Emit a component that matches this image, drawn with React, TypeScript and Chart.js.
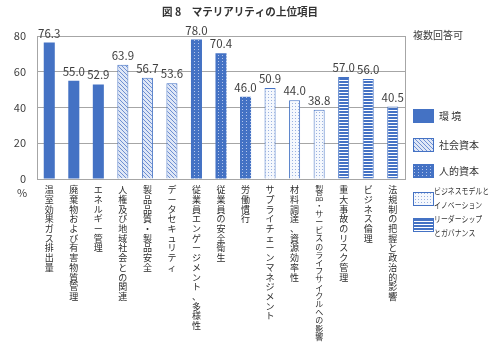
import React, { useEffect, useRef } from 'react';
import { Chart, registerables } from 'chart.js';

Chart.register(...registerables);

const chartTitle = '図 8　マテリアリティの上位項目';
const noteText = '複数回答可';
const unitText = '%';

const categories = [
  '温室効果ガス排出量',
  '廃棄物および有害物質管理',
  'エネルギー管理',
  '人権及び地域社会との関連',
  '製品品質・製品安全',
  'データセキュリティ',
  '従業員エンゲージメント、多様性',
  '従業員の安全衛生',
  '労働慣行',
  'サプライチェーンマネジメント',
  '材料調達、資源効率性',
  '製品・サービスのライフサイクルへの影響',
  '重大事故のリスク管理',
  'ビジネス倫理',
  '法規制の把握と政治的影響',
];

const values = [76.3, 55.0, 52.9, 63.9, 56.7, 53.6, 78.0, 70.4, 46.0, 50.9, 44.0, 38.8, 57.0, 56.0, 40.5];

const groupOfCategory = [0, 0, 0, 1, 1, 1, 2, 2, 2, 3, 3, 3, 4, 4, 4];

const groupNames: string[][] = [
  ['環 境'],
  ['社会資本'],
  ['人的資本'],
  ['ビジネスモデルと', 'イノベーション'],
  ['リーダーシップ', 'とガバナンス'],
];

const yMin = 0;
const yMax = 80;
const yStep = 20;

const BLUE = '#4472C4';
const FONT = "'Noto Sans CJK JP', 'Noto Sans', sans-serif";

function makeFill(kind: number): string | CanvasPattern {
  if (kind === 0) return BLUE;
  const c = document.createElement('canvas');
  const g = c.getContext('2d')!;
  if (kind === 1) {
    c.width = 4; c.height = 4;
    g.fillStyle = '#dfe7f6';
    g.fillRect(0, 0, 4, 4);
    g.strokeStyle = '#6e8fd2';
    g.lineWidth = 1;
    for (const o of [-4, 0, 4]) {
      g.beginPath();
      g.moveTo(o, 0);
      g.lineTo(o + 4, 4);
      g.stroke();
    }
  } else if (kind === 2) {
    c.width = 4; c.height = 3;
    g.fillStyle = BLUE;
    g.fillRect(0, 0, 4, 3);
    g.fillStyle = '#b3c5ea';
    g.fillRect(2, 1, 1, 1);
  } else if (kind === 3) {
    c.width = 3; c.height = 3;
    g.fillStyle = '#f5f8fd';
    g.fillRect(0, 0, 3, 3);
    g.fillStyle = '#9ab1e0';
    g.fillRect(1, 1, 1, 1);
  } else {
    c.width = 1; c.height = 3;
    g.fillStyle = BLUE;
    g.fillRect(0, 0, 1, 2);
    g.fillStyle = '#ffffff';
    g.fillRect(0, 2, 1, 1);
  }
  return g.createPattern(c, 'repeat')!;
}

export default function App() {
  const ref = useRef<HTMLCanvasElement | null>(null);

  useEffect(() => {
    if (!ref.current) return;
    const fills = [0, 1, 2, 3, 4].map(makeFill);
    const borders = ['rgba(0,0,0,0)', BLUE, 'rgba(0,0,0,0)', BLUE, BLUE];
    const borderWidths = [0, 1, 0, 1, 1];

    const extras = {
      id: 'extras',
      beforeDatasetsDraw(chart: any) {
        const { ctx, chartArea: a } = chart;
        ctx.save();
        ctx.strokeStyle = '#a6a6a6';
        ctx.lineWidth = 1;
        ctx.strokeRect(Math.round(a.left) + 0.5, Math.round(a.top) + 0.5, Math.round(a.right - a.left), Math.round(a.bottom - a.top));
        ctx.restore();
      },
      afterDatasetsDraw(chart: any) {
        const { ctx } = chart;
        const meta = chart.getDatasetMeta(0);
        ctx.save();
        ctx.font = `11.5px ${FONT}`;
        ctx.fillStyle = '#404040';
        ctx.textAlign = 'center';
        ctx.textBaseline = 'alphabetic';
        meta.data.forEach((bar: any, i: number) => {
          ctx.fillText(values[i].toFixed(1), bar.x, bar.y - 5);
        });
        ctx.restore();
      },
      afterDraw(chart: any) {
        const { ctx, chartArea: a } = chart;
        ctx.save();
        // title
        ctx.font = `bold 11px ${FONT}`;
        ctx.fillStyle = '#333333';
        ctx.textAlign = 'center';
        ctx.textBaseline = 'middle';
        ctx.fillText(chartTitle, 240, 12, 156);
        // note
        ctx.font = `10px ${FONT}`;
        ctx.fillStyle = '#404040';
        ctx.textAlign = 'left';
        ctx.fillText(noteText, a.right + 8, 35);
        // unit
        ctx.font = `11px ${FONT}`;
        ctx.textAlign = 'center';
        ctx.fillText(unitText, 22, a.bottom + 14);
        // legend
        const centers = [116, 145, 171, 199, 225];
        const lineOffsets = [[0], [0], [0], [-8, 6], [-6, 8]];
        const bx = a.right + 8;
        groupNames.forEach((lines, k) => {
          const cy = centers[k];
          const bw = 21, bh = 14;
          ctx.fillStyle = fills[k] as any;
          ctx.fillRect(bx, cy - bh / 2, bw, bh);
          if (borderWidths[k]) {
            ctx.strokeStyle = BLUE;
            ctx.lineWidth = 1;
            ctx.strokeRect(bx + 0.5, cy - bh / 2 + 0.5, bw - 1, bh - 1);
          }
          ctx.fillStyle = '#333333';
          ctx.textAlign = 'left';
          ctx.textBaseline = 'middle';
          if (lines.length === 1) {
            ctx.font = `10px ${FONT}`;
            ctx.fillText(lines[0], bx + 26, cy);
          } else {
            ctx.font = `8.5px ${FONT}`;
            lines.forEach((ln, j) => {
              ctx.fillText(ln, bx + 21, cy + lineOffsets[k][j], 55 * ln.length / 8);
            });
          }
        });
        ctx.restore();
      },
    };

    const chart = new Chart(ref.current, {
      type: 'bar',
      data: {
        labels: categories,
        datasets: [
          {
            data: values,
            backgroundColor: groupOfCategory.map((g) => fills[g]) as any,
            borderColor: groupOfCategory.map((g) => borders[g]),
            borderWidth: groupOfCategory.map((g) => borderWidths[g]),
            categoryPercentage: 1,
            barPercentage: 0.45,
          },
        ],
      },
      options: {
        responsive: false,
        animation: false,
        layout: { padding: { top: 36, right: 95, left: 0, bottom: 0 } },
        plugins: {
          legend: { display: false },
          tooltip: { enabled: false },
          title: { display: false },
        },
        scales: {
          x: {
            grid: { display: false, drawTicks: false },
            border: { color: '#a6a6a6' },
            ticks: {
              autoSkip: false,
              maxRotation: 0,
              minRotation: 0,
              padding: 6,
              color: '#2b2b2b',
              font: (ctx: any) =>
                ctx.index === 11
                  ? { family: FONT, size: 8, lineHeight: '8.2px' }
                  : { family: FONT, size: 9, lineHeight: '9.7px' },
              callback: (_v: any, i: number) => Array.from(categories[i]),
            },
            afterFit: (scale: any) => {
              scale.height = 171;
            },
          },
          y: {
            min: yMin,
            max: yMax,
            grid: { color: '#a6a6a6', drawTicks: false },
            border: { color: '#a6a6a6' },
            ticks: {
              stepSize: yStep,
              padding: 11,
              color: '#404040',
              font: { family: FONT, size: 11 },
            },
            afterFit: (scale: any) => {
              scale.width = 37;
            },
          },
        },
      },
      plugins: [extras],
    });
    return () => chart.destroy();
  }, []);

  return (
    <div style={{ position: 'absolute', left: 0, top: 0, width: 500, height: 350, background: '#fff' }}>
      <canvas ref={ref} width={500} height={350} />
    </div>
  );
}
